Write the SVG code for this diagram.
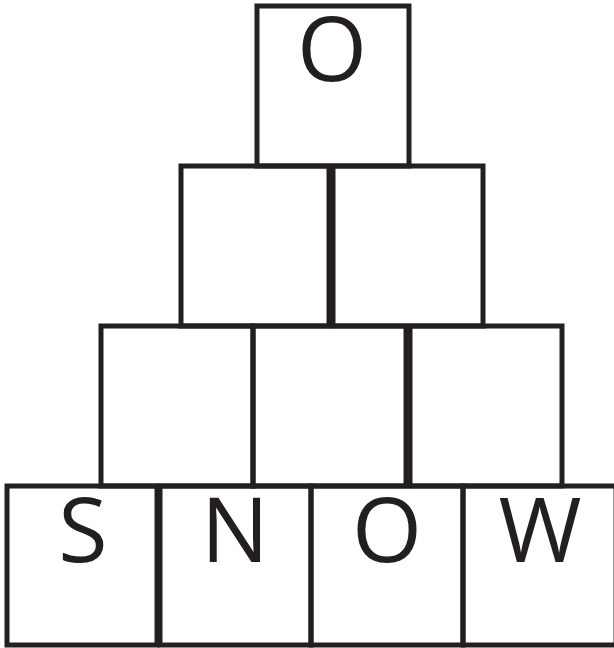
<svg xmlns="http://www.w3.org/2000/svg" width="614" height="648" viewBox="0 0 614 648">
<style>
.b{fill:none;stroke:#231f20;stroke-width:5}
.t{font-family:"Open Sans","Liberation Sans",sans-serif;font-size:90px;fill:#231f20;text-anchor:middle}
</style>
<rect width="614" height="648" fill="#fff"/>
<g id="r1c1"><rect class="b" x="257" y="6" width="152" height="160"/><text class="t" x="332" y="81">O</text></g>
<g id="r2c1"><rect class="b" x="181" y="166" width="148" height="160"/></g>
<g id="r2c2"><rect class="b" x="333" y="166" width="150" height="160"/></g>
<g id="r3c1"><rect class="b" x="101" y="326" width="152" height="160"/></g>
<g id="r3c2"><rect class="b" x="253" y="326" width="153" height="160"/></g>
<g id="r3c3"><rect class="b" x="410" y="326" width="152" height="160"/></g>
<g id="r4c1"><rect class="b" x="7" y="486" width="150" height="159"/><text class="t" x="83" y="562">S</text></g>
<g id="r4c2"><rect class="b" x="160" y="486" width="151" height="159"/><text class="t" x="235" y="562">N</text></g>
<g id="r4c3"><rect class="b" x="311" y="486" width="152" height="159"/><text class="t" x="387" y="562">O</text></g>
<g id="r4c4"><rect class="b" x="463" y="486" width="153" height="159"/><text class="t" x="540" y="562">W</text></g>
<g id="connectors"></g>
</svg>
